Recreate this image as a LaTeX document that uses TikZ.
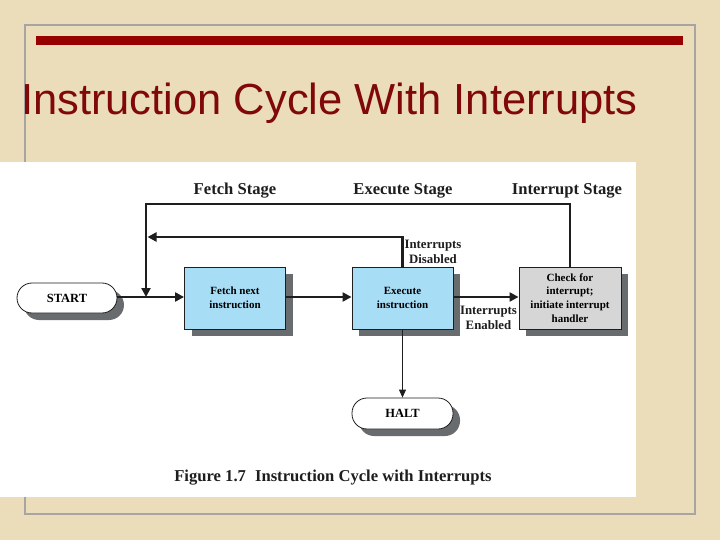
\documentclass[tikz,border=0pt]{standalone}
\usepackage{fontspec}
\setmainfont{Liberation Serif}
\newfontfamily\titlefont{Liberation Sans}
\usetikzlibrary{arrows.meta,shadows}
\definecolor{bgbeige}{RGB}{235,221,186}
\definecolor{framegray}{RGB}{168,164,164}
\definecolor{barred}{RGB}{150,0,0}
\definecolor{titlered}{RGB}{128,8,8}
\definecolor{boxblue}{RGB}{168,221,246}
\definecolor{boxgray}{RGB}{214,214,214}
\definecolor{shadowgray}{RGB}{105,108,110}
\definecolor{linedark}{RGB}{30,30,30}
\tikzset{
  boxshadow/.style={drop shadow={shadow xshift=7pt,shadow yshift=-7pt,fill=shadowgray,opacity=1}},
  procbox/.style={draw=linedark,line width=0.9pt,minimum width=101pt,minimum height=62pt,
    inner sep=1pt,align=center,font=\fontsize{11}{13.7}\selectfont\bfseries,boxshadow},
  pill/.style={draw=linedark,line width=0.8pt,fill=white,rounded corners=15pt,minimum width=100pt,
    minimum height=30pt,font=\fontsize{12.5}{14}\selectfont\bfseries,boxshadow},
  flow/.style={line width=2.4pt,draw=linedark,-{Triangle[length=9pt,width=9pt]}},
  thinflow/.style={line width=0.9pt,draw=linedark,-{Triangle[length=8pt,width=7pt]}},
  stagelbl/.style={font=\fontsize{16.6}{18}\selectfont\bfseries,text=linedark},
  condlbl/.style={font=\fontsize{12.8}{15}\selectfont\bfseries,align=center,text=linedark,inner sep=0pt}
}
\begin{document}
\begin{tikzpicture}[x=1pt,y=-1pt]
\useasboundingbox (0,0) rectangle (720,540);
\fill[bgbeige] (0,0) rectangle (720,540);
\draw[framegray,line width=2pt] (25,25) rectangle (695,514);
\fill[barred] (36,36) rectangle (683,45.5);
\node (title) [anchor=base west,inner sep=0pt,text=titlered] at (21,115)
  {\titlefont\fontsize{43.5}{50}\selectfont Instruction Cycle With Interrupts};
\fill[white] (0,162) rectangle (636,497);

\node (start) [pill] at (67,298) {START};
\node (fetch) [procbox,fill=boxblue] at (235,298) {Fetch next\\instruction};
\node (exec) [procbox,fill=boxblue] at (402.5,298) {Execute\\instruction};
\node (intr) [procbox,fill=boxgray,minimum width=102pt] at (570,298) {Check for\\interrupt;\\initiate interrupt\\handler};
\node (halt) [pill,minimum width=101pt,minimum height=31pt] at (402.5,413.5) {HALT};

\node (fs) [stagelbl] at (235,191) {Fetch Stage};
\node (es) [stagelbl] at (403,191) {Execute Stage};
\node (is) [stagelbl] at (567,191) {Interrupt Stage};
\node (dis) [condlbl] at (433,251.5) {Interrupts\\Disabled};
\node (ena) [condlbl] at (488.5,317.5) {Interrupts\\Enabled};
\node (cap) [font=\fontsize{16.6}{18}\selectfont\bfseries,text=linedark] at (333,478)
  {Figure 1.7\hspace{0.3em} Instruction Cycle with Interrupts};

\coordinate (topL) at (146,204);
\coordinate (midL) at (147.5,237);
\coordinate (j) at (146,297);

\draw[flow] (start.east |- j) -- (fetch.west |- j);
\draw[flow] (fetch.east |- j) -- (exec.west |- j);
\draw[flow] (exec.east |- j) -- (intr.west |- j);
\draw[flow] (intr.north) |- (topL) -- (j);
\draw[flow] (exec.north) |- (midL);
\draw[thinflow] (exec.south) -- (halt.north);
\end{tikzpicture}
\end{document}
